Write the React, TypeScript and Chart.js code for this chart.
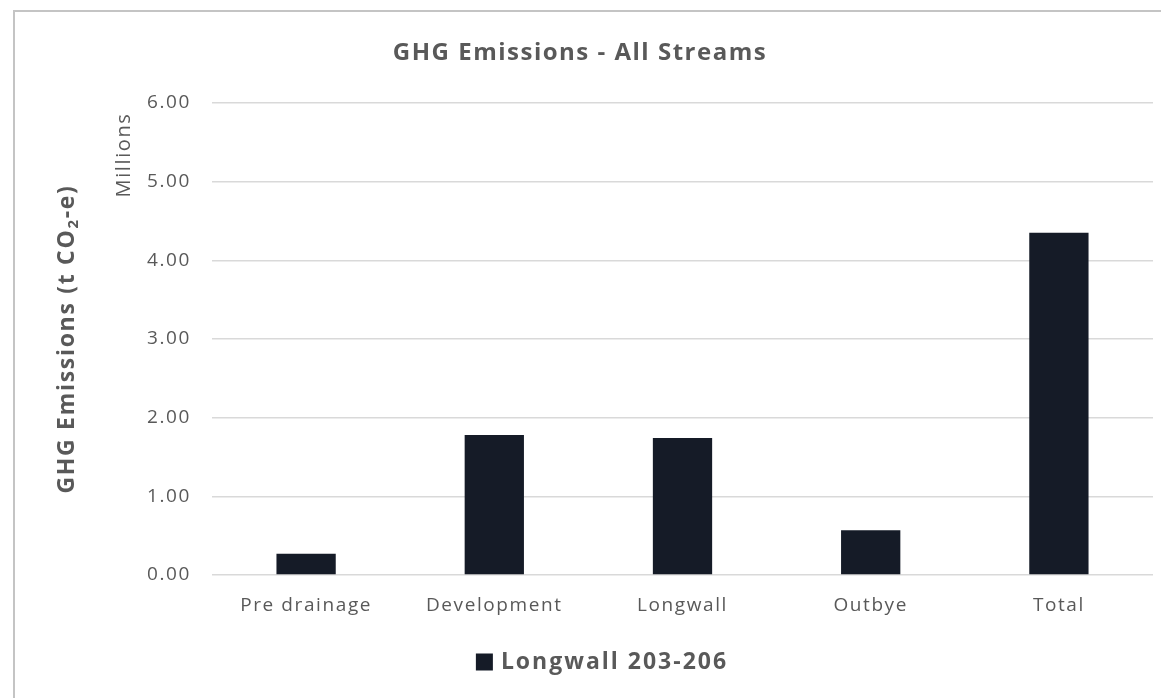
import React, { useEffect, useRef } from "react";
import { Chart, registerables } from "chart.js";

Chart.register(...registerables);

// ---- data ----
const categories = ["Pre drainage", "Development", "Longwall", "Outbye", "Total"];
const longwall203to206 = [0.27, 1.78, 1.74, 0.57, 4.35];
const seriesName = "Longwall 203-206";
const chartTitle = "GHG Emissions - All Streams";
const yTitleParts = ["GHG Emissions (t CO", "2", "-e)"];
const yUnitLabel = "Millions";
const yMin = 0;
const yMax = 6;
const yStep = 1;

// ---- styling ----
const FONT = "'Open Sans', sans-serif";
const TEXT = "#595959";
const BAR = "#151b27";
const GRID = "#d9d9d9";
const TICK_SPACING = "1.6px";

const setSpacing = (ctx: CanvasRenderingContext2D, v: string) => {
  (ctx as any).letterSpacing = v;
};

const decorations = {
  id: "decorations",
  beforeDraw(chart: Chart) {
    const { ctx } = chart;
    ctx.save();
    ctx.fillStyle = "#ffffff";
    ctx.fillRect(0, 0, chart.width, chart.height);
    ctx.strokeStyle = "#c4c4c4";
    ctx.lineWidth = 2;
    ctx.strokeRect(14, 11, chart.width + 20, chart.height + 20);
    ctx.restore();
    // wider tracking for the axis tick labels drawn next
    setSpacing(ctx, TICK_SPACING);
  },
  afterDraw(chart: Chart) {
    const { ctx, chartArea } = chart;
    ctx.save();
    ctx.fillStyle = TEXT;

    // chart title
    setSpacing(ctx, "1.5px");
    ctx.font = `bold 24px ${FONT}`;
    ctx.textAlign = "center";
    ctx.textBaseline = "middle";
    ctx.fillText(chartTitle, 580, 53);

    // vertical axis title with subscript
    setSpacing(ctx, "1.7px");
    const mainFont = `bold 23px ${FONT}`;
    const subFont = `bold 15px ${FONT}`;
    ctx.font = mainFont;
    const w0 = ctx.measureText(yTitleParts[0]).width;
    const w2 = ctx.measureText(yTitleParts[2]).width;
    ctx.font = subFont;
    const w1 = ctx.measureText(yTitleParts[1]).width;
    const total = w0 + w1 + w2;
    const cy = (chartArea.top + chartArea.bottom) / 2;
    ctx.translate(67, cy);
    ctx.rotate(-Math.PI / 2);
    ctx.textAlign = "left";
    ctx.textBaseline = "middle";
    let x = -total / 2;
    ctx.font = mainFont;
    ctx.fillText(yTitleParts[0], x, 0);
    x += w0;
    ctx.font = subFont;
    ctx.fillText(yTitleParts[1], x, 7);
    x += w1;
    ctx.font = mainFont;
    ctx.fillText(yTitleParts[2], x, 0);
    ctx.setTransform(1, 0, 0, 1, 0, 0);

    // display-units label
    setSpacing(ctx, "1.6px");
    ctx.font = `20px ${FONT}`;
    ctx.translate(124, 155);
    ctx.rotate(-Math.PI / 2);
    ctx.textAlign = "center";
    ctx.fillText(yUnitLabel, 0, 0);
    ctx.setTransform(1, 0, 0, 1, 0, 0);

    // legend
    const ds = chart.data.datasets[0];
    setSpacing(ctx, "2px");
    ctx.font = `bold 23px ${FONT}`;
    const tw = ctx.measureText(ds.label as string).width;
    const box = 17;
    const gap = 8;
    const legendW = box + gap + tw;
    const lx = 602 - legendW / 2;
    const ly = 662;
    ctx.fillStyle = ds.backgroundColor as string;
    ctx.fillRect(lx, ly - box / 2, box, box);
    ctx.fillStyle = TEXT;
    ctx.textAlign = "left";
    ctx.textBaseline = "middle";
    ctx.fillText(ds.label as string, lx + box + gap, ly);
    ctx.restore();
  },
};

export default function App() {
  const canvasRef = useRef<HTMLCanvasElement | null>(null);

  useEffect(() => {
    if (!canvasRef.current) return;
    const chart = new Chart(canvasRef.current, {
      type: "bar",
      data: {
        labels: categories,
        datasets: [
          {
            label: seriesName,
            data: longwall203to206,
            backgroundColor: BAR,
            borderWidth: 0,
            categoryPercentage: 1,
            barPercentage: 0.315,
          },
        ],
      },
      options: {
        animation: false,
        responsive: false,
        maintainAspectRatio: false,
        layout: { padding: { left: 0, right: 8, top: 103, bottom: 63 } },
        plugins: {
          legend: { display: false },
          title: { display: false },
          tooltip: { enabled: false },
        },
        scales: {
          x: {
            grid: { display: false, drawTicks: false },
            border: { display: false },
            ticks: { color: TEXT, font: { family: FONT, size: 19 }, padding: 19 },
            afterFit(scale: any) {
              scale.height = 60;
            },
          },
          y: {
            min: yMin,
            max: yMax,
            ticks: {
              stepSize: yStep,
              color: TEXT,
              font: { family: FONT, size: 19 },
              padding: 21,
              callback: (v: any) => Number(v).toFixed(2),
            },
            grid: { color: GRID, lineWidth: 1.5, drawTicks: false },
            border: { display: false },
            afterFit(scale: any) {
              scale.width = 212;
            },
          },
        },
      },
      plugins: [decorations],
    });
    return () => chart.destroy();
  }, []);

  return (
    <div style={{ position: "fixed", left: 0, top: 0, width: 1161, height: 698, background: "#fff" }}>
      <canvas ref={canvasRef} width={1161} height={698} style={{ display: "block" }} />
    </div>
  );
}
